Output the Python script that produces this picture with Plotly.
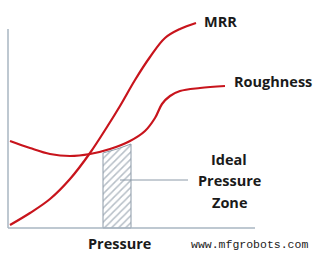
import plotly.graph_objects as go

# Curve samples (x: pressure position, y: level, screen-like units)
mrr_x = [10, 30, 50, 70, 90, 107, 120, 135, 150, 165, 180, 196]
mrr_y = [225, 213, 199, 179, 153, 127, 106, 80, 57, 38, 29, 23]

rough_x = [10, 30, 50, 70, 90, 110, 130, 145, 155, 162, 170, 180, 200, 225]
rough_y = [141, 148, 154, 156, 154, 149, 141, 131, 118, 104, 96, 91, 88, 86]

zone_x = [103, 103, 117, 131, 131, 103]
zone_y = [228, 153, 149, 144, 228, 228]

red = "#c8141c"
axis_c = "#a9b6c2"

fig = go.Figure()
fig.add_trace(go.Scatter(x=zone_x, y=zone_y, mode="lines", fill="toself",
                         fillcolor="rgba(0,0,0,0)",
                         fillpattern=dict(shape="/", fgcolor="#6f8090", size=5, solidity=0.3, bgcolor="white"),
                         line=dict(color="#8c9aa8", width=1), hoverinfo="skip"))
fig.add_trace(go.Scatter(x=rough_x, y=rough_y, mode="lines", line=dict(color=red, width=2.2, shape="spline"), hoverinfo="skip"))
fig.add_trace(go.Scatter(x=mrr_x, y=mrr_y, mode="lines", line=dict(color=red, width=2.2, shape="spline"), hoverinfo="skip"))

# axes and leader line
fig.add_shape(type="line", x0=8, y0=29, x1=8, y1=228, line=dict(color=axis_c, width=1.5))
fig.add_shape(type="line", x0=8, y0=228, x1=255, y1=228, line=dict(color=axis_c, width=1.5))
fig.add_shape(type="line", x0=120, y0=180, x1=188, y1=180, line=dict(color="#8c9aa8", width=1))

bold = dict(family="Open Sans", size=14.5, color="#1a1a1a")
def label(x, y, t, **kw):
    fig.add_annotation(x=x, y=y, text="<b>" + t + "</b>", showarrow=False, font=bold, **kw)

label(220, 21, "MRR")
label(273, 81, "Roughness")
label(229, 159, "Ideal")
label(229, 180, "Pressure")
label(229, 202, "Zone")
label(119, 243, "Pressure")
fig.add_annotation(x=249, y=244, text="www.mfgrobots.com", showarrow=False,
                   font=dict(family="Liberation Mono", size=11.5, color="#222222"))

fig.update_layout(width=320, height=254, margin=dict(l=0, r=0, t=0, b=0),
                  paper_bgcolor="white", plot_bgcolor="white", showlegend=False,
                  xaxis=dict(range=[0, 320], visible=False, fixedrange=True),
                  yaxis=dict(range=[254, 0], visible=False, fixedrange=True))
fig.write_html("out.html", config={"displayModeBar": False})
